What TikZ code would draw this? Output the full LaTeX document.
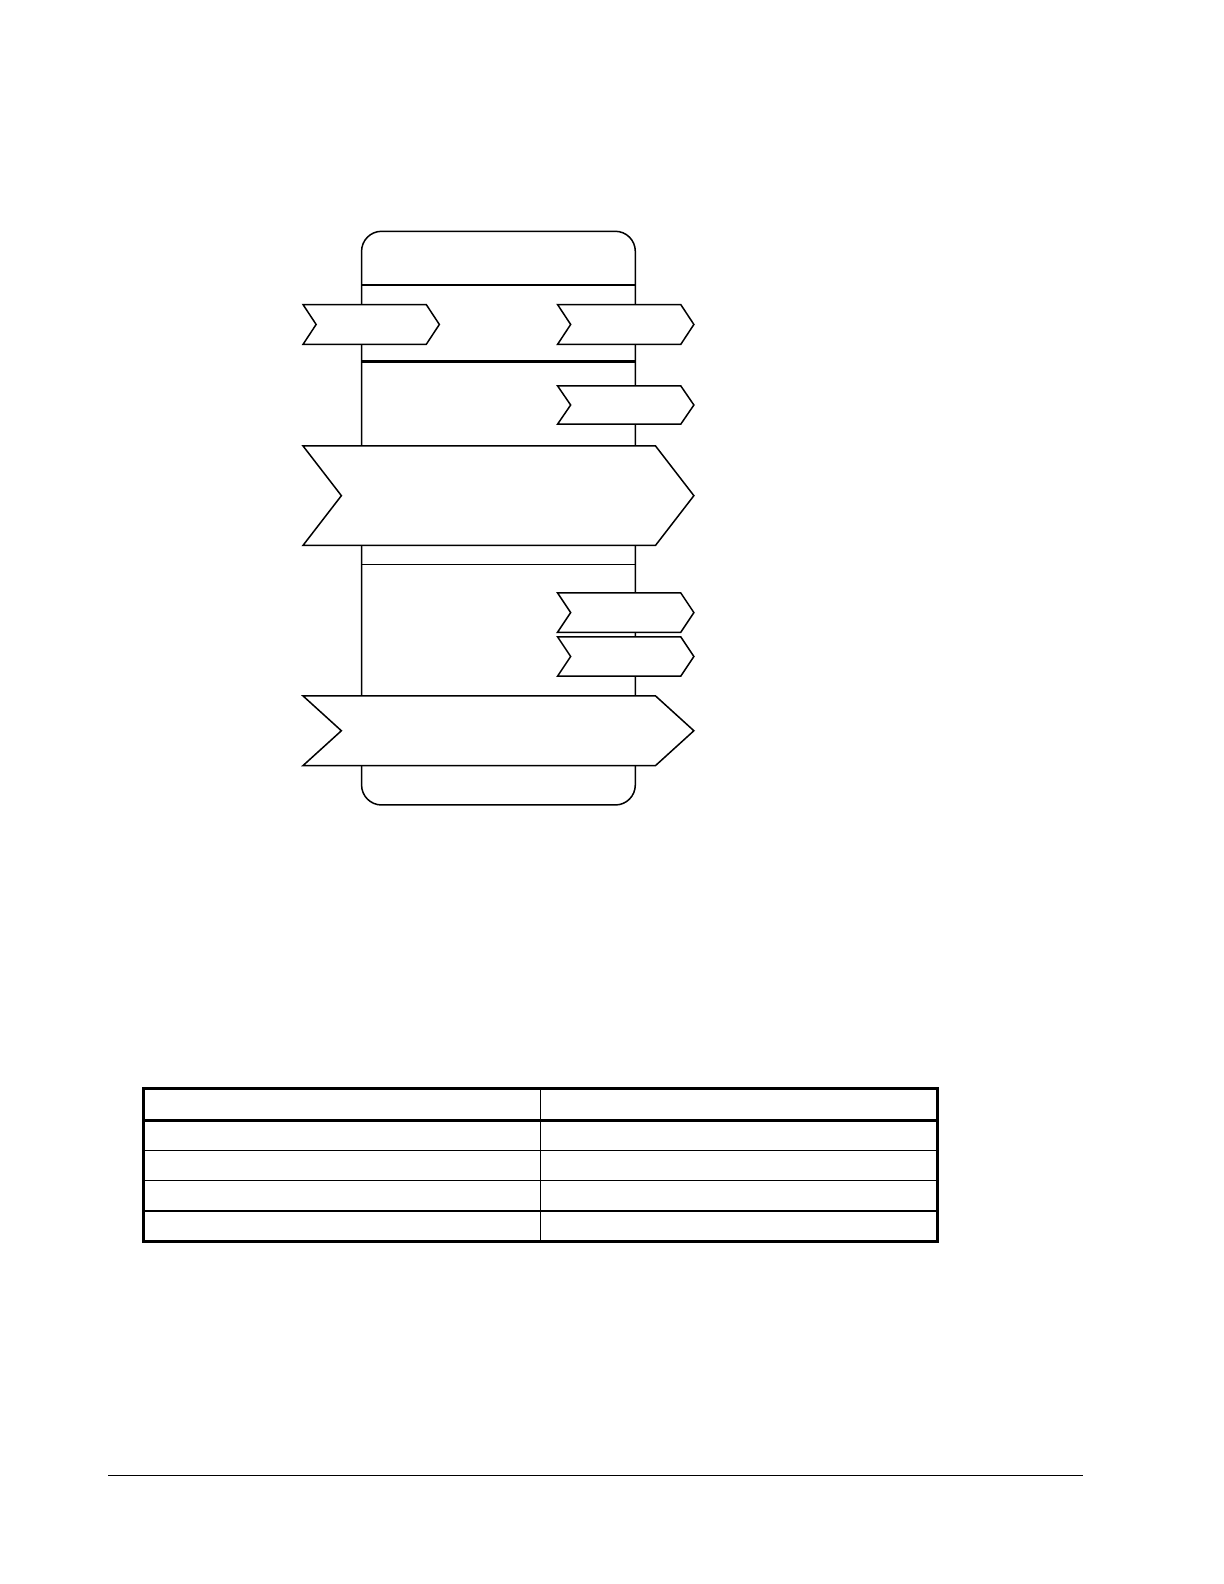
\documentclass[tikz,border=0pt]{standalone}
\usepackage{tikz}
\usetikzlibrary{arrows.meta}
\tikzstyle{column}=[draw, line width=0.75pt, rounded corners=10pt]
\tikzstyle{band}=[draw, line width=0.75pt]
\tikzstyle{tag}=[draw, fill=white, line width=0.75pt, line join=miter]
\tikzstyle{frame}=[draw, line width=1.5pt]
\tikzstyle{rule}=[draw, line width=0.75pt]
% chevron: left, tip, top, bottom, depth
\newcommand{\chevron}[5]{\draw[tag] (#1,#3) -- (#2-#5,#3) -- (#2,{(#3+#4)/2}) -- (#2-#5,#4) -- (#1,#4) -- (#1+#5,{(#3+#4)/2}) -- cycle;}

\begin{document}
\begin{tikzpicture}[x=0.505pt, y=-0.505pt]
        \useasboundingbox (0pt,0pt) rectangle (612pt,-792pt);
        \draw[column] (358,229) rectangle (629,797);
        \draw[band] (358,282) -- (629,282); \draw[band, line width=1.1pt] (358,358) -- (629,358);
        \draw[band] (358,559) -- (629,559);
        \chevron{300}{435}{301.5}{341}{13} \chevron{552}{687}{301.5}{341}{13}
        \chevron{552}{687}{382}{420}{13}
        \chevron{300}{687}{441.5}{540}{38}
        \foreach \y in {587,630.5} { \chevron{552}{687}{\y}{\y+39}{13} }
        \chevron{300}{687}{689}{758}{38}
        % table
        \foreach \y in {1139,1169,1199} { \draw[rule] (142,\y) -- (928,\y); }
        \draw[rule] (535,1078) -- (535,1229);
        \draw[frame] (142,1109) -- (928,1109);
        \draw[frame] (142,1078) rectangle (928,1229);
        \draw[rule] (107,1461) -- (1072,1461);
    \end{tikzpicture}
\end{document}
